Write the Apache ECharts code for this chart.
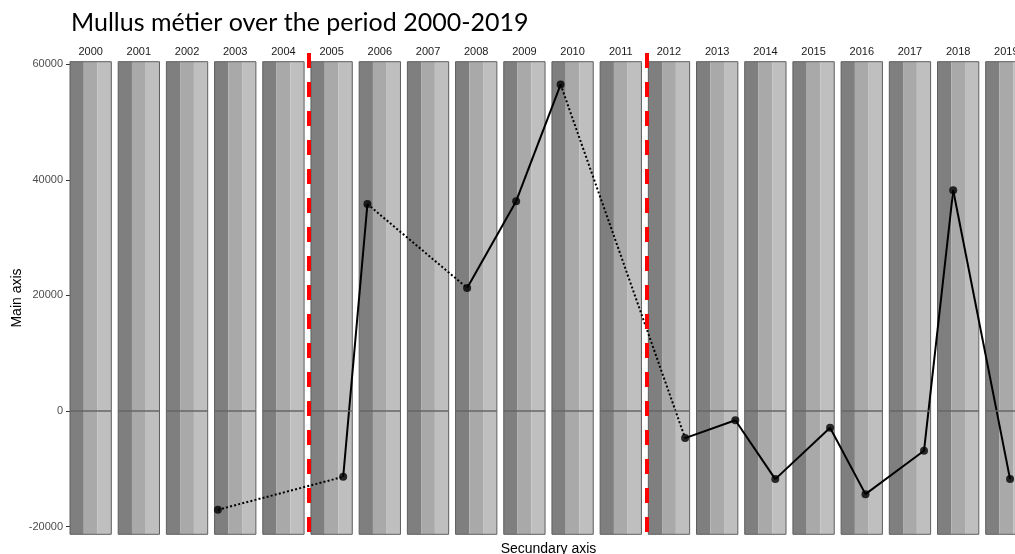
<!DOCTYPE html>
<html>
<head>
<meta charset="utf-8">
<script src="https://cdn.jsdelivr.net/npm/echarts@6/dist/echarts.min.js"></script>
<style>
html,body{margin:0;padding:0;background:#fff;}
#chart{width:1015px;height:554px;}
</style>
</head>
<body>
<div id="chart"></div>
<script>
// ---- data ----
const panelYears = [2000,2001,2002,2003,2004,2005,2006,2007,2008,2009,2010,2011,2012,2013,2014,2015,2016,2017,2018,2019];
const pointYears = [2003, 2005, 2006, 2008, 2009, 2010, 2012, 2013, 2014, 2015, 2016, 2017, 2018, 2019];
const pointValues = [-17100, -11400, 35800, 21300, 36300, 56500, -4700, -1600, -11800, -2900, -14400, -6900, 38200, -11800];
const pointPos = [0.08, 0.78, 0.20, 0.28, 0.30, 0.21, 0.89, 0.94, 0.74, 0.90, 0.59, 0.84, 0.38, 0.59]; // position inside panel (0..1)
const yTicks = [-20000, 0, 20000, 40000, 60000];
const breakYears = [2004.95, 2011.963];
const titleText = 'Mullus métier over the period 2000-2019';

// ---- layout constants ----
const PANEL = 0.857;  // panel width as fraction of a year slot
const X_MIN = 2000, X_MAX = 2019 + PANEL;
const Y_MIN = -21350, Y_MAX = 60450;
const stripeColors = ['#7f7f7f', '#a9a9a9', '#bfbfbf'];

// panels as mark areas
const areas = [];
panelYears.forEach(y => {
  for (let k = 0; k < 3; k++) {
    areas.push([{xAxis: y + PANEL * k / 3, itemStyle: {color: stripeColors[k], borderWidth: 0}},
                {xAxis: y + PANEL * (k + 1) / 3}]);
  }
  areas.push([{xAxis: y, itemStyle: {color: 'rgba(0,0,0,0)', borderColor: '#5e5e5e', borderWidth: 1}},
              {xAxis: y + PANEL}]);
});
const zeroLines = panelYears.map(y => [{coord: [y, 0]}, {coord: [y + PANEL, 0]}]);

const pts = pointYears.map((y, i) => [y + pointPos[i] * PANEL, pointValues[i]]);
const segSeries = [];
for (let i = 0; i < pts.length - 1; i++) {
  const gap = pointYears[i + 1] - pointYears[i] > 1;
  segSeries.push({
    type: 'line', xAxisIndex: 0, yAxisIndex: 0, z: 3,
    data: [pts[i], pts[i + 1]], symbol: 'none', silent: true,
    lineStyle: {color: '#000', width: 2, type: gap ? [2, 2.2] : 'solid'}
  });
}

const chart = echarts.init(document.getElementById('chart'), null, {renderer: 'canvas'});
chart.setOption({
  animation: false,
  backgroundColor: '#fff',
  title: {
    text: titleText, left: 66, top: 5,
    textStyle: {fontFamily: 'Lato', fontWeight: 'normal', fontSize: 25, color: '#000'}
  },
  grid: [
    {left: 70, width: 957, top: 61.7, height: 472.6, containLabel: false, outerBoundsMode: 'none'},
    {left: 70, width: 957, top: 53, height: 488, containLabel: false, outerBoundsMode: 'none'}
  ],
  xAxis: [
    {type: 'value', gridIndex: 0, min: X_MIN, max: X_MAX, position: 'bottom',
     axisLine: {show: false}, axisTick: {show: false}, axisLabel: {show: false}, splitLine: {show: false},
     name: 'Secundary axis', nameLocation: 'middle', nameGap: 8, nameMoveOverlap: false,
     nameTextStyle: {fontFamily: 'Liberation Sans', fontSize: 14, color: '#000', verticalAlign: 'top'}},
    {type: 'value', gridIndex: 0, min: X_MIN, max: X_MAX, position: 'top',
     axisLine: {show: false}, axisTick: {show: false}, splitLine: {show: false},
     axisLabel: {show: true, customValues: panelYears.map(y => y + PANEL / 2), margin: 4,
       formatter: v => String(Math.round(v - PANEL / 2)),
       fontFamily: 'Liberation Sans', fontSize: 11, color: '#1a1a1a'}},
    {type: 'value', gridIndex: 1, min: X_MIN, max: X_MAX, show: false}
  ],
  yAxis: [
    {type: 'value', gridIndex: 0, min: Y_MIN, max: Y_MAX,
     axisLine: {show: false}, splitLine: {show: false},
     axisTick: {show: true, customValues: yTicks, length: 4, lineStyle: {color: '#333', width: 1}},
     axisLabel: {show: true, customValues: yTicks, margin: 7, formatter: v => String(v),
       fontFamily: 'Liberation Sans', fontSize: 11, color: '#4d4d4d'},
     name: 'Main axis', nameLocation: 'middle', nameGap: 46, nameRotate: 90, nameMoveOverlap: false,
     nameTextStyle: {fontFamily: 'Liberation Sans', fontSize: 14, color: '#000'}},
    {type: 'value', gridIndex: 1, min: 0, max: 1, show: false, inverse: true}
  ],
  series: [
    {type: 'line', xAxisIndex: 0, yAxisIndex: 0, z: 1, data: [], silent: true,
     markArea: {silent: true, data: areas}},
    {type: 'line', xAxisIndex: 0, yAxisIndex: 0, z: 2, data: [], silent: true,
     markLine: {silent: true, symbol: 'none', label: {show: false},
       lineStyle: {color: '#666', width: 1.5, type: 'solid'}, data: zeroLines}},
    ...segSeries,
    {type: 'scatter', xAxisIndex: 0, yAxisIndex: 0, z: 4, data: pts, symbolSize: 8,
     itemStyle: {color: '#000'}, silent: true},
    {type: 'line', xAxisIndex: 2, yAxisIndex: 1, z: 5, data: [], silent: true,
     markLine: {silent: true, symbol: 'none', label: {show: false},
       lineStyle: {color: '#ff0000', width: 4, type: [15, 14]},
       data: breakYears.map(x => ({xAxis: x}))}}
  ]
});
</script>
</body>
</html>
